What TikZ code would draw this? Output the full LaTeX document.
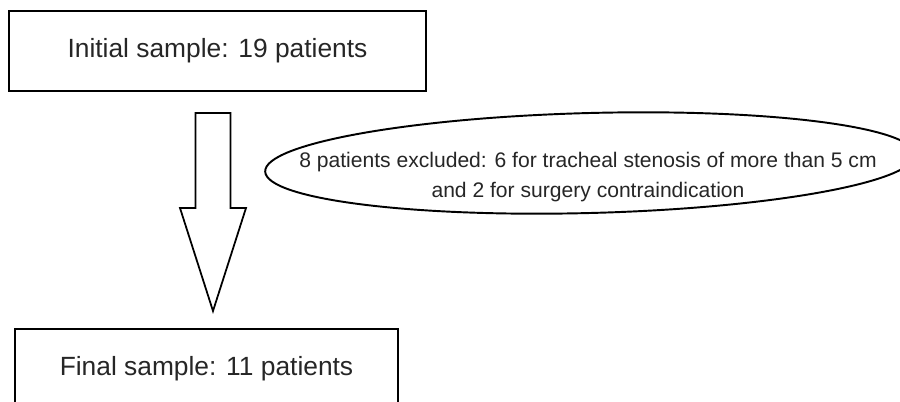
\documentclass[tikz,border=0pt]{standalone}
\usepackage{fontspec}
\setmainfont{Liberation Sans}
\usetikzlibrary{shapes.geometric,calc}

\begin{document}
\begin{tikzpicture}[x=0.02cm,y=-0.02cm,thick,
    sample/.style={draw,line width=1.4pt,minimum width=8.34cm,minimum height=1.6cm,
                   text=black!85,font=\fontsize{15}{18}\selectfont},
    exclusion/.style={draw,ellipse,line width=1.1pt,minimum width=13cm,minimum height=2cm,inner sep=0pt},
    note/.style={align=center,text=black!85,font=\fontsize{12}{17}\selectfont},
    bigarrow/.style={draw,line width=1pt,line join=miter}]

  \useasboundingbox (0,0) rectangle (900,402);
  \clip (0,0) rectangle (900,402);

  % Define samples
  \node[sample] (initial) at (217.5,51) {Initial sample: 19 patients};
  \node[sample,minimum width=7.66cm] (final) at (206.5,369) {Final sample: 11 patients};

  % Excluded patients
  \node[exclusion,rotate=1.5] (excluded) at (590,163) {};
  \node[note] (reason) at (588,177)
    {8 patients excluded: 6 for tracheal stenosis of more than 5 cm\\and 2 for surgery contraindication};

  % Draw arrow
  \coordinate (atop) at (213,113);
  \coordinate (atip) at (213,311);
  \draw[bigarrow] (atop) ++(-17.5,0) -- ++(35,0) -- ++(0,95) -- ++(15.5,0) -- (atip)
    -- ++(-33,-103) -- ++(15.5,0) -- cycle;

\end{tikzpicture}
\end{document}
